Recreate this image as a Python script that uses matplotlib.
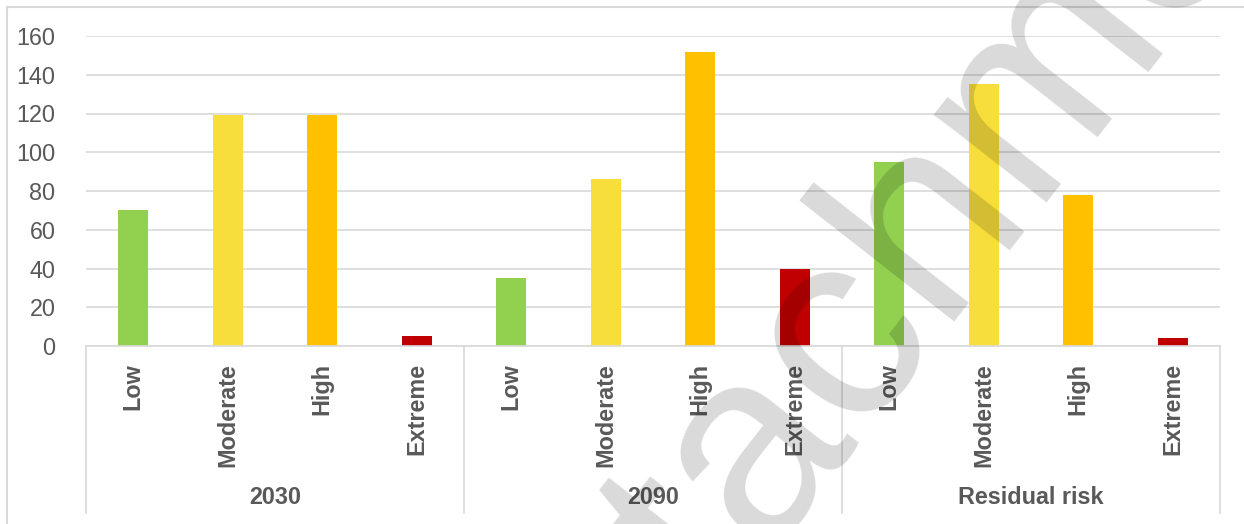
import numpy as np
import matplotlib.pyplot as plt
from matplotlib.lines import Line2D

plt.rcParams['font.family'] = ['Liberation Sans', 'DejaVu Sans']

# risk counts per period
groups = ["2030", "2090", "Residual risk"]
levels = ["Low", "Moderate", "High", "Extreme"]
counts_2030 = [70, 119, 119, 5]
counts_2090 = [35, 86, 152, 40]
counts_residual = [95, 135, 78, 4]
level_colors = ["#92d050", "#f7de3b", "#ffc000", "#c00000"]

TXT = "#595959"
GRID = "#d9d9d9"
FS = 16.8

fig = plt.figure(figsize=(12.44, 5.24), dpi=100)
W, H = 1244, 524
ax = fig.add_axes([86 / W, (H - 346) / H, (1220 - 86) / W, (346 - 36) / H])

values = counts_2030 + counts_2090 + counts_residual
colors = level_colors * len(groups)
x = np.arange(len(values)) + 0.5
ax.bar(x, values, width=0.32, color=colors, zorder=2)

ax.set_xlim(0, len(values))
ax.set_ylim(0, 160)
ax.set_yticks(np.arange(0, 161, 20))
ax.yaxis.grid(True, color=GRID, linewidth=1.2)
ax.set_axisbelow(True)
for s in ["top", "right", "left"]:
    ax.spines[s].set_visible(False)
ax.spines["bottom"].set_color(GRID)
ax.spines["bottom"].set_linewidth(1.2)
ax.tick_params(axis="y", length=0, pad=22, labelsize=FS, labelcolor=TXT)
ax.set_xticks([])

# two-level category axis
for xi, lab in zip(x, levels * len(groups)):
    ax.text(xi, -17 / 1.9375, lab, rotation=90, ha="center", va="top",
            fontsize=FS, fontweight="bold", color=TXT, clip_on=False)
for gi, g in enumerate(groups):
    ax.text(gi * 4 + 2, -151 / 1.9375, g, ha="center", va="center",
            fontsize=FS, fontweight="bold", color=TXT, clip_on=False)
for b in range(0, len(values) + 1, 4):
    ax.add_line(Line2D([b, b], [0, -167 / 1.9375], color=GRID, linewidth=1.2,
                       clip_on=False))

# chart area border
fig.add_artist(Line2D([7 / W, 7 / W], [0, 1 - 7 / H], color=GRID, linewidth=1.5))
fig.add_artist(Line2D([7 / W, 1], [1 - 7 / H, 1 - 7 / H], color=GRID, linewidth=1.5))

# watermark
fig.text(930 / W, 1 - 238 / H, "Attachment", rotation=52, rotation_mode="anchor",
         ha="center", va="center", fontsize=195, color="black", alpha=0.15,
         family="Liberation Sans", zorder=10)

fig.savefig("out.png", dpi=100)
